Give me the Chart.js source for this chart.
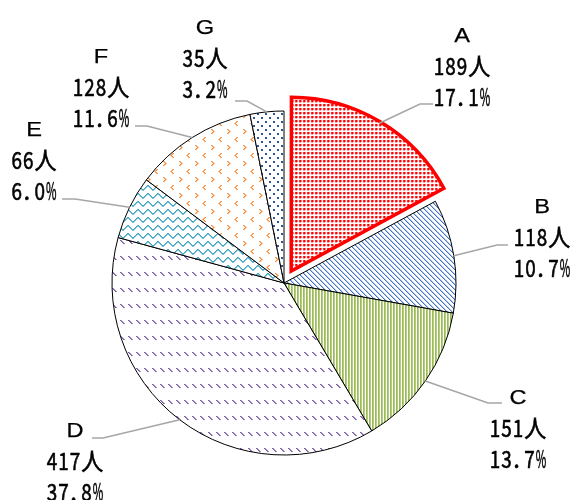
<!DOCTYPE html>
<html>
<head>
<meta charset="utf-8">
<script src="https://cdn.jsdelivr.net/npm/chart.js@4"></script>
<style>
  html, body { margin: 0; padding: 0; background: #fff; }
</style>
</head>
<body>
<canvas id="pieChart" width="574" height="500"></canvas>
<script>
// データ
const categories = ['A', 'B', 'C', 'D', 'E', 'F', 'G'];
const counts = [189, 118, 151, 417, 66, 128, 35];
const unit = '人';

// ラベル配置（文字ブロックと引き出し線の折れ点）
const labelPos = [[462, 35], [542, 206], [518, 397], [75, 430], [34, 129], [101, 56], [205, 27]];
const leaderElbow = [[420, 104], [497, 245], [488, 403], [103, 438], [75, 199], [147, 126], [247, 101]];
const leaderEnd = [[433, 104], [508, 245], [502, 403], [92, 438], [62, 199], [135, 126], [235, 101]];

const canvas = document.getElementById('pieChart');
const mainCtx = canvas.getContext('2d');

// パターン塗り
function makePattern(w, h, draw) {
    const tile = document.createElement('canvas');
    tile.width = w;
    tile.height = h;
    const t = tile.getContext('2d');
    t.fillStyle = '#fff';
    t.fillRect(0, 0, w, h);
    draw(t);
    return mainCtx.createPattern(tile, 'repeat');
}
function px(t, color, pts) {
    t.fillStyle = color;
    pts.forEach(p => t.fillRect(p[0], p[1], p[2] || 1, p[3] || 1));
}

const patterns = [
    // A: 赤の点
    makePattern(4, 4, t => {
        px(t, '#ff9a9a', [[2, 0, 1, 2], [0, 2, 2, 1]]);
        px(t, '#ff0000', [[0, 0, 2, 2]]);
    }),
    // B: 青の右下がり斜線
    makePattern(5, 5, t => {
        for (let i = 0; i < 5; i++) {
            px(t, '#b5c9ec', [[(i + 1) % 5, i]]);
            px(t, '#4472c4', [[i, i]]);
        }
    }),
    // C: 緑の縦線
    makePattern(3, 1, t => {
        px(t, '#9bbb59', [[0, 0]]);
        px(t, '#b4cd7f', [[1, 0]]);
    }),
    // D: 紫の破線斜線
    makePattern(8, 16, t => {
        for (let i = 0; i < 4; i++) {
            px(t, '#a48fc0', [[i + 1, i]]);
            px(t, '#7a5b9f', [[i, i]]);
        }
    }),
    // E: 水色の波線
    makePattern(10, 8, t => {
        for (let x = 0; x < 10; x++) {
            const y = Math.round(3 + 1.6 * Math.sin(2 * Math.PI * x / 10));
            px(t, '#7cc3d7', [[x, y + 1]]);
            px(t, '#3fa5c2', [[x, y]]);
        }
    }),
    // F: オレンジの < >
    makePattern(16, 16, t => {
        const gt = [[3, 1], [4, 2], [5, 3], [4, 4], [3, 5]];
        const lt = [[13, 9], [12, 10], [11, 11], [12, 12], [13, 13]];
        px(t, '#f9b888', gt.map(p => [p[0] + 1, p[1]]));
        px(t, '#f9b888', lt.map(p => [p[0] - 1, p[1]]));
        px(t, '#f58a36', gt);
        px(t, '#f58a36', lt);
    }),
    // G: 紺の点
    makePattern(8, 8, t => {
        px(t, '#2f5597', [[1, 1, 2, 2], [5, 5, 2, 2]]);
    })
];

// 文字描画（半角・全角の等幅送り）
function drawMono(ctx, text, cx, cy) {
    const half = 11.5, full = 23;
    const adv = ch => ch.charCodeAt(0) < 256 ? half : full;
    const chars = [...text];
    let x = cx - chars.reduce((s, c) => s + adv(c), 0) / 2;
    ctx.font = '24px "Noto Sans CJK JP"';
    ctx.textAlign = 'left';
    ctx.textBaseline = 'alphabetic';
    ctx.lineWidth = 0.6;
    ctx.strokeStyle = '#000';
    chars.forEach(ch => {
        const a = adv(ch);
        const w = Math.min(ctx.measureText(ch).width, a - 1);
        const gx = ch === '.' ? x + 1 : x + (a - w) / 2;
        ctx.fillText(ch, gx, cy + 9, a - 1);
        ctx.strokeText(ch, gx, cy + 9, a - 1);
        x += a;
    });
}

const labelPlugin = {
    id: 'pieLabels',
    afterDatasetsDraw(chart) {
        const ctx = chart.ctx;
        const meta = chart.getDatasetMeta(0);
        const total = counts.reduce((a, b) => a + b, 0);
        ctx.save();
        meta.data.forEach((arc, i) => {
            const p = arc.getProps(['x', 'y', 'startAngle', 'endAngle', 'outerRadius'], true);
            const mid = (p.startAngle + p.endAngle) / 2;
            const r = p.outerRadius + (arc.options.offset || 0) / 4;
            const sx = p.x + Math.cos(mid) * r;
            const sy = p.y + Math.sin(mid) * r;

            ctx.strokeStyle = '#a6a6a6';
            ctx.lineWidth = 1.5;
            ctx.beginPath();
            ctx.moveTo(sx, sy);
            ctx.lineTo(leaderElbow[i][0], leaderElbow[i][1]);
            ctx.lineTo(leaderEnd[i][0], leaderEnd[i][1]);
            ctx.stroke();

            const [cx, cy] = labelPos[i];
            ctx.fillStyle = '#000';
            ctx.save();
            ctx.font = '20px "Liberation Sans"';
            ctx.textAlign = 'center';
            ctx.textBaseline = 'alphabetic';
            ctx.translate(cx, cy + 7);
            ctx.scale(1.18, 1);
            ctx.strokeStyle = '#000';
            ctx.lineWidth = 0.25;
            ctx.fillText(categories[i], 0, 0);
            ctx.strokeText(categories[i], 0, 0);
            ctx.restore();

            drawMono(ctx, counts[i] + unit, cx, cy + 31);
            drawMono(ctx, (counts[i] / total * 100).toFixed(1) + '%', cx, cy + 62);
        });
        ctx.restore();
    }
};

new Chart(canvas, {
    type: 'pie',
    data: {
        labels: categories,
        datasets: [{
            data: counts,
            backgroundColor: patterns,
            borderColor: ['#ff0000', '#000', '#000', '#000', '#000', '#000', '#000'],
            borderWidth: [3.5, 1, 1, 1, 1, 1, 1],
            borderJoinStyle: 'miter',
            offset: [56, 0, 0, 0, 0, 0, 0],
            clip: false
        }]
    },
    options: {
        responsive: false,
        animation: false,
        events: [],
        radius: 172,
        layout: { padding: { top: 66, bottom: 0, left: 0, right: 6 } },
        plugins: {
            legend: { display: false },
            tooltip: { enabled: false }
        }
    },
    plugins: [labelPlugin]
});
</script>
</body>
</html>
